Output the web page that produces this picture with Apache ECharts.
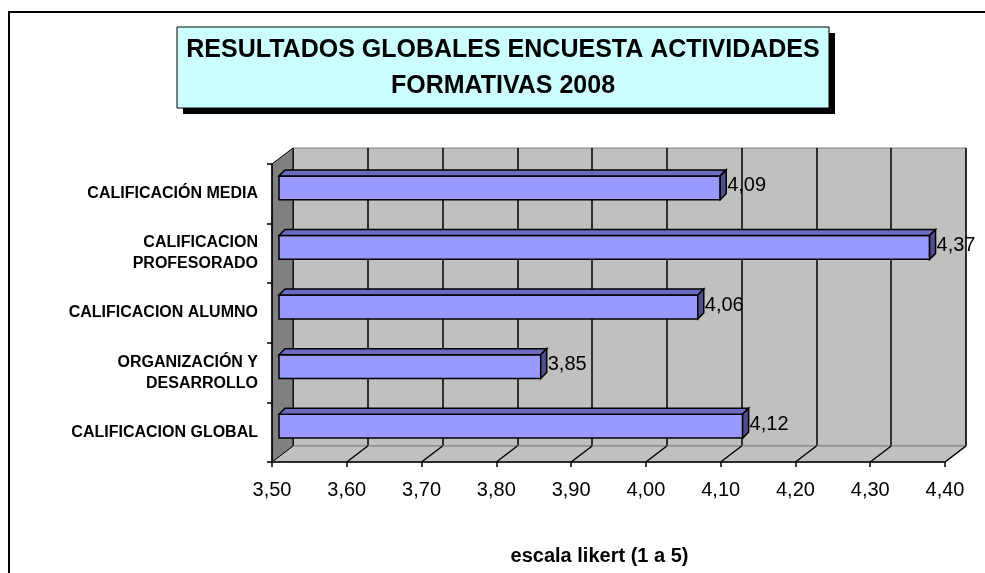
<!DOCTYPE html>
<html>
<head>
<meta charset="utf-8">
<script src="https://cdn.jsdelivr.net/npm/echarts@6/dist/echarts.min.js"></script>
<style>
html, body { margin: 0; padding: 0; background: #fff; }
#mychart { width: 985px; height: 573px; }
</style>
</head>
<body>
<div id="mychart"></div>
<script>
// datos (de arriba a abajo)
const categorias = ['CALIFICACIÓN MEDIA', 'CALIFICACION\nPROFESORADO', 'CALIFICACION ALUMNO', 'ORGANIZACIÓN Y\nDESARROLLO', 'CALIFICACION GLOBAL'];
const valores = [4.09, 4.37, 4.06, 3.85, 4.12];
const ticksEje = [3.5, 3.6, 3.7, 3.8, 3.9, 4.0, 4.1, 4.2, 4.3, 4.4];
const titulo = 'RESULTADOS GLOBALES ENCUESTA ACTIVIDADES\nFORMATIVAS 2008';
const nombreEje = 'escala likert (1 a 5)';

const FUENTE = "'Liberation Sans', Arial, sans-serif";
const DX = 21, DY = -16;   // profundidad del efecto 3d
const fmt = v => v.toFixed(2).replace('.', ',');

const myChart = echarts.init(document.getElementById('mychart'));

// suelo y pared lateral
function renderParedes(params, api) {
    const cs = params.coordSys;
    const x0 = cs.x, y0 = cs.y, x1 = cs.x + cs.width, y1 = cs.y + cs.height;
    const children = [
        { type: 'polygon', shape: { points: [[x0, y1], [x1, y1], [x1 + DX, y1 + DY], [x0 + DX, y1 + DY]] },
          style: { fill: '#C0C0C0', stroke: '#808080', lineWidth: 1 } },
        { type: 'polygon', shape: { points: [[x0, y0], [x0 + DX, y0 + DY], [x0 + DX, y1 + DY], [x0, y1]] },
          style: { fill: '#808080', stroke: '#000', lineWidth: 1 } }
    ];
    // lineas del suelo en cada marca
    ticksEje.slice(1).forEach(t => {
        const x = api.coord([t, 0])[0];
        children.push({ type: 'line', shape: { x1: x, y1: y1, x2: x + DX, y2: y1 + DY },
            style: { stroke: '#000', lineWidth: 1.5 } });
    });
    return { type: 'group', children };
}

// barras con cara superior y lateral
function renderBarra(params, api) {
    const val = api.value(0), i = api.value(1);
    const base = api.coord([ticksEje[0], i]);
    const fin = api.coord([val, i]);
    const h = api.size([0, 1])[1] * 0.4;
    const bx = 7, by = -6, d = 6;
    const xa = base[0] + bx, xb = fin[0] + bx;
    const yt = base[1] + by - h / 2, yb = yt + h;
    return {
        type: 'group',
        children: [
            { type: 'rect', shape: { x: xa, y: yt, width: xb - xa, height: h },
              style: { fill: '#9999FF', stroke: '#000', lineWidth: 1.5 } },
            { type: 'polygon', shape: { points: [[xa, yt], [xb, yt], [xb + d, yt - d], [xa + d, yt - d]] },
              style: { fill: '#6B6BBF', stroke: '#000', lineWidth: 1.5 } },
            { type: 'polygon', shape: { points: [[xb, yt], [xb + d, yt - d], [xb + d, yb - d], [xb, yb]] },
              style: { fill: '#4D4D8F', stroke: '#000', lineWidth: 1.5 } },
            { type: 'text', x: xb + d + 1, y: base[1] + by - 2,
              style: { text: fmt(val), fill: '#000', fontSize: 20, fontFamily: FUENTE, align: 'left', verticalAlign: 'middle' } }
        ]
    };
}

myChart.setOption({
    animation: false,
    graphic: [
        { type: 'rect', silent: true, shape: { x: 9, y: 12, width: 1000, height: 600 },
          style: { fill: 'none', stroke: '#000', lineWidth: 2 } },
        { type: 'rect', silent: true, shape: { x: 183, y: 33, width: 652, height: 81 }, style: { fill: '#000' } },
        { type: 'rect', silent: true, shape: { x: 177, y: 27, width: 652, height: 81 },
          style: { fill: '#CCFFFF', stroke: '#000', lineWidth: 1 } },
        { type: 'text', silent: true, x: 503, y: 68,
          style: { text: titulo, fill: '#000', fontSize: 25, fontWeight: 'bold', fontFamily: FUENTE,
                   align: 'center', verticalAlign: 'middle', lineHeight: 36 } }
    ],
    grid: [
        { left: 272, top: 164, right: 40, bottom: 111, outerBoundsMode: 'none' },
        { left: 293, top: 148, right: 19, bottom: 127, outerBoundsMode: 'none', show: true,
          backgroundColor: '#C0C0C0', borderColor: '#808080', borderWidth: 1 }
    ],
    xAxis: [
        { gridIndex: 0, type: 'value', min: 3.5, max: 4.4, interval: 0.1, z: 5,
          axisLine: { show: true, lineStyle: { color: '#000', width: 1.5 } },
          axisTick: { show: true, length: 5, lineStyle: { color: '#000', width: 1.5 } },
          axisLabel: { formatter: fmt, margin: 18, fontSize: 20, color: '#000', fontFamily: FUENTE },
          splitLine: { show: false },
          name: nombreEje, nameLocation: 'middle', nameGap: 84,
          nameTextStyle: { fontWeight: 'bold', fontSize: 20, color: '#000', fontFamily: FUENTE, padding: [0, 18, 0, 0] } },
        { gridIndex: 1, type: 'value', min: 3.5, max: 4.4, interval: 0.1,
          axisLine: { show: false }, axisTick: { show: false }, axisLabel: { show: false },
          splitLine: { show: true, lineStyle: { color: '#000', width: 1.5 } } }
    ],
    yAxis: [
        { gridIndex: 0, type: 'category', data: categorias, inverse: true, z: 5,
          axisLine: { show: true, lineStyle: { color: '#000', width: 1.5 } },
          axisTick: { show: true, length: 5, lineStyle: { color: '#000', width: 1.5 } },
          axisLabel: { fontWeight: 'bold', fontSize: 16, margin: 14, lineHeight: 21, color: '#000', fontFamily: FUENTE },
          splitLine: { show: false } },
        { gridIndex: 1, type: 'category', data: categorias, inverse: true, show: false }
    ],
    series: [
        { type: 'custom', name: 'paredes', xAxisIndex: 0, yAxisIndex: 0, z: 1, silent: true, clip: false,
          renderItem: renderParedes, data: [[ticksEje[0], 0]] },
        { type: 'custom', name: 'resultados', xAxisIndex: 0, yAxisIndex: 0, z: 3, clip: false,
          renderItem: renderBarra, encode: { x: 0, y: 1 },
          data: valores.map((v, i) => [v, i]) }
    ]
});

window.addEventListener('resize', () => {
    myChart.resize();
});
</script>
</body>
</html>
